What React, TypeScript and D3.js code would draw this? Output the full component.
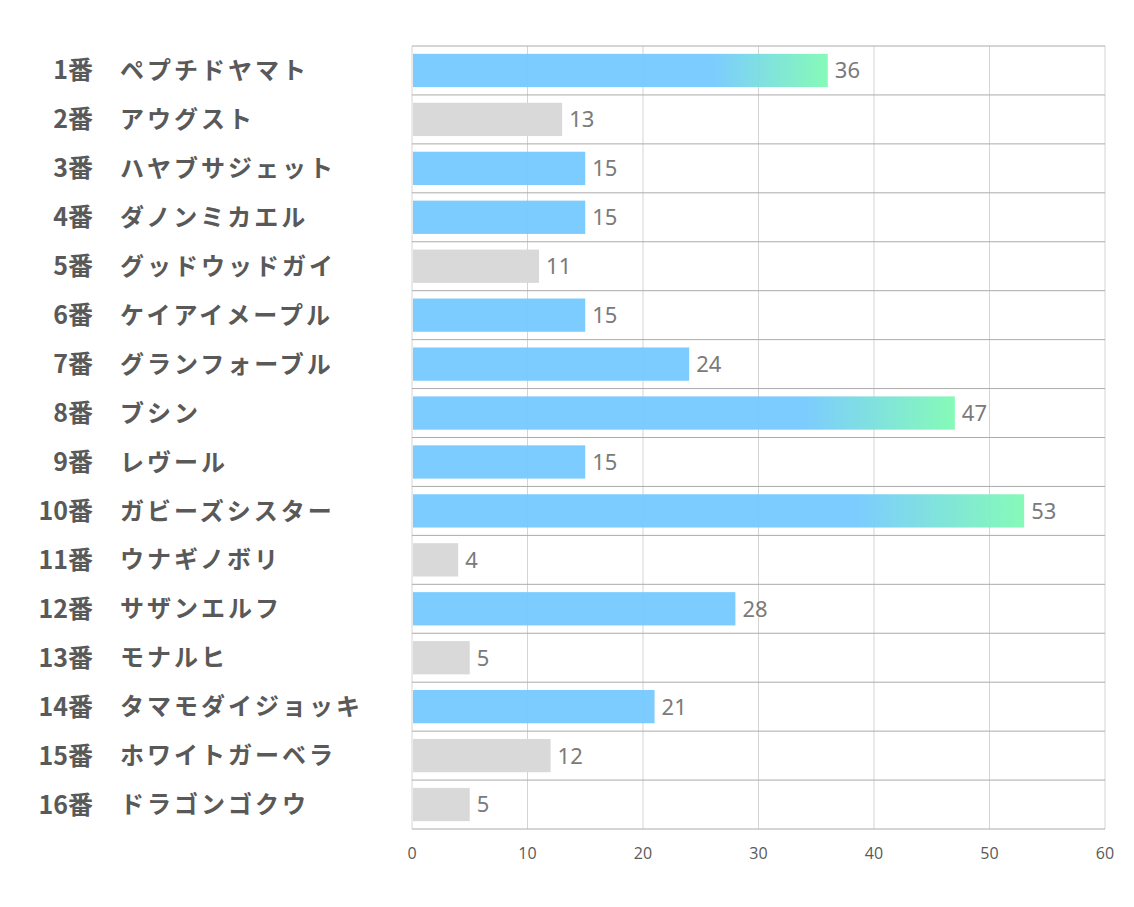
import React, { useEffect, useRef } from 'react';
import * as d3 from 'd3';

// horse numbers and names, top to bottom
const numbers = ['1番', '2番', '3番', '4番', '5番', '6番', '7番', '8番', '9番', '10番', '11番', '12番', '13番', '14番', '15番', '16番'];
const names = [
  'ペプチドヤマト', 'アウグスト', 'ハヤブサジェット', 'ダノンミカエル',
  'グッドウッドガイ', 'ケイアイメープル', 'グランフォーブル', 'ブシン',
  'レヴール', 'ガビーズシスター', 'ウナギノボリ', 'サザンエルフ',
  'モナルヒ', 'タマモダイジョッキ', 'ホワイトガーベラ', 'ドラゴンゴクウ',
];
const values = [36, 13, 15, 15, 11, 15, 24, 47, 15, 53, 4, 28, 5, 21, 12, 5];
const xTicks = [0, 10, 20, 30, 40, 50, 60];

const App = () => {
  const ref = useRef<SVGSVGElement>(null);

  useEffect(() => {
    const svg = d3.select(ref.current);
    svg.selectAll('*').remove();

    const left = 412;
    const right = 1105;
    const top = 46;
    const bottom = 829;

    const x = d3.scaleLinear().domain([0, 60]).range([left, right]);
    const y = d3
      .scaleBand<number>()
      .domain(d3.range(values.length))
      .range([top, bottom])
      .paddingInner(0)
      .paddingOuter(0);
    const barH = y.bandwidth() * 0.68;

    // gradient for the top bars
    const defs = svg.append('defs');
    const grad = defs
      .append('linearGradient')
      .attr('id', 'hot')
      .attr('x1', '0')
      .attr('x2', '1')
      .attr('y1', '0')
      .attr('y2', '0');
    grad.append('stop').attr('offset', '0.72').attr('stop-color', '#75c9ff');
    grad.append('stop').attr('offset', '1').attr('stop-color', '#7ffab4');

    // vertical grid
    svg
      .append('g')
      .selectAll('line')
      .data(xTicks)
      .enter()
      .append('line')
      .attr('x1', (d) => x(d))
      .attr('x2', (d) => x(d))
      .attr('y1', top)
      .attr('y2', bottom)
      .attr('stroke', '#d4d4d4')
      .attr('stroke-width', 1);

    // horizontal row lines
    const rowLines = d3.range(values.length + 1).map((i) => top + i * y.step());
    svg
      .append('g')
      .selectAll('line')
      .data(rowLines)
      .enter()
      .append('line')
      .attr('x1', left)
      .attr('x2', right)
      .attr('y1', (d) => d)
      .attr('y2', (d) => d)
      .attr('stroke', '#ababab')
      .attr('stroke-width', 1);

    const fillFor = (v: number) => (v > 30 ? 'url(#hot)' : v >= 15 ? '#75c9ff' : '#d9d9d9');

    // bars
    svg
      .append('g')
      .selectAll('rect')
      .data(values)
      .enter()
      .append('rect')
      .attr('x', x(0) + 1)
      .attr('y', (d, i) => (y(i) as number) + (y.bandwidth() - barH) / 2)
      .attr('width', (d) => x(d) - x(0) - 1)
      .attr('height', barH)
      .attr('fill', (d) => fillFor(d))
      .attr('opacity', (d) => (d >= 15 ? 0.95 : 1));

    // value labels
    svg
      .append('g')
      .selectAll('text')
      .data(values)
      .enter()
      .append('text')
      .attr('x', (d) => x(d) + 7)
      .attr('y', (d, i) => (y(i) as number) + y.bandwidth() / 2)
      .attr('dy', '0.36em')
      .attr('font-family', '"Noto Sans", "Open Sans", sans-serif')
      .attr('font-size', 22)
      .attr('fill', '#7a7a7a')
      .text((d) => d);

    // category labels
    const labelFont = '"Noto Sans CJK JP", "Noto Sans", sans-serif';
    svg
      .append('g')
      .selectAll('text')
      .data(numbers)
      .enter()
      .append('text')
      .attr('x', 93)
      .attr('y', (d, i) => (y(i) as number) + y.bandwidth() / 2)
      .attr('dy', '0.36em')
      .attr('text-anchor', 'end')
      .attr('font-family', labelFont)
      .attr('font-weight', 700)
      .attr('font-size', 25)
      .attr('fill', '#595959')
      .text((d) => d);

    svg
      .append('g')
      .selectAll('text')
      .data(names)
      .enter()
      .append('text')
      .attr('x', 120)
      .attr('y', (d, i) => (y(i) as number) + y.bandwidth() / 2)
      .attr('dy', '0.36em')
      .attr('font-family', labelFont)
      .attr('font-weight', 700)
      .attr('font-size', 24)
      .attr('letter-spacing', '3px')
      .attr('fill', '#595959')
      .text((d) => d);

    // x axis tick labels
    svg
      .append('g')
      .selectAll('text')
      .data(xTicks)
      .enter()
      .append('text')
      .attr('x', (d) => x(d))
      .attr('y', 853)
      .attr('dy', '0.36em')
      .attr('text-anchor', 'middle')
      .attr('font-family', '"Open Sans", "Noto Sans", sans-serif')
      .attr('font-size', 16)
      .attr('fill', '#595959')
      .text((d) => d);
  }, []);

  return (
    <svg
      ref={ref}
      width={1134}
      height={907}
      style={{ position: 'absolute', left: 0, top: 0, background: '#fff' }}
    />
  );
};

export default App;
